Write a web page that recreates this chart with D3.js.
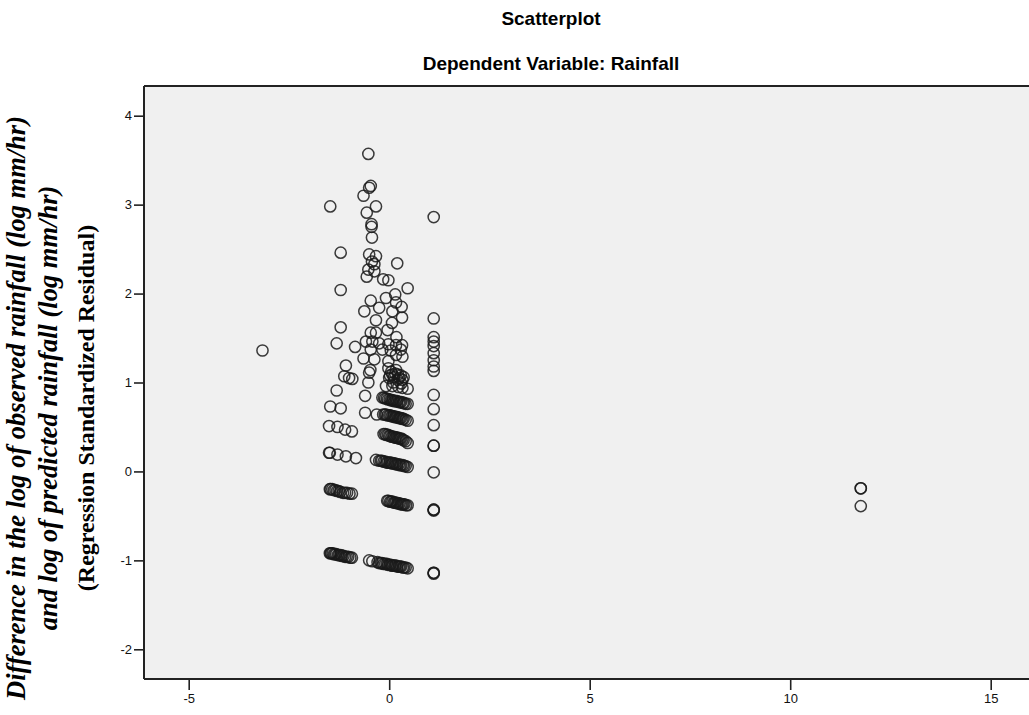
<!DOCTYPE html>
<html><head><meta charset="utf-8">
<script src="https://cdn.jsdelivr.net/npm/d3@7"></script>
<style>body{margin:0;background:#fff}</style>
</head><body>
<svg id="chart" width="1029" height="715"></svg>
<script>
// ---- Data (standardized predicted value, standardized residual) ----
const xTicks = [-5, 0, 5, 10, 15];
const yTicks = [-2, -1, 0, 1, 2, 3, 4];

const outlierPoints = [[-3.16, 1.36], [11.76, -0.19], [11.76, -0.19], [11.76, -0.39]];

const rightColumn = [
  [1.11, 2.86], [1.11, 1.72], [1.11, 1.51], [1.11, 1.46], [1.11, 1.41], [1.11, 1.33],
  [1.11, 1.25], [1.11, 1.18], [1.11, 1.13], [1.11, 0.86], [1.11, 0.70], [1.11, 0.52],
  [1.11, 0.29], [1.11, 0.29], [1.11, -0.01], [1.11, -0.43], [1.11, -0.43], [1.11, -0.44],
  [1.11, -1.14], [1.11, -1.14], [1.11, -1.15]
];

const upperScatter = [
  [-0.52, 3.57], [-0.46, 3.21], [-0.50, 3.19], [-0.64, 3.10], [-1.47, 2.98], [-0.33, 2.98],
  [-0.56, 2.91], [-0.44, 2.78], [-0.44, 2.75], [-0.43, 2.63], [-1.21, 2.46], [-0.50, 2.44],
  [-0.33, 2.42], [-0.43, 2.36], [-0.37, 2.33], [0.20, 2.34], [-0.52, 2.27], [-0.37, 2.25],
  [-0.56, 2.19], [-0.15, 2.16], [-0.02, 2.15], [-1.21, 2.04], [0.46, 2.06], [0.15, 1.99],
  [-0.08, 1.95], [-0.46, 1.92], [0.17, 1.90], [-0.62, 1.80], [-0.25, 1.84], [0.08, 1.80],
  [0.31, 1.85], [0.32, 1.73], [-0.33, 1.70], [0.07, 1.67], [-0.04, 1.59], [0.18, 1.51],
  [-1.21, 1.62], [-1.31, 1.44], [-0.85, 1.40], [-0.46, 1.56], [-0.33, 1.56], [-0.58, 1.46],
  [-0.42, 1.46], [-0.25, 1.44], [-0.02, 1.43], [0.17, 1.42], [0.32, 1.42], [-0.46, 1.37],
  [-0.17, 1.37], [0.04, 1.36], [0.29, 1.37], [-0.64, 1.27], [-0.37, 1.26], [-0.02, 1.24],
  [0.33, 1.29], [0.17, 1.31], [-1.08, 1.19], [-1.12, 1.07], [-1.00, 1.05], [-0.92, 1.04],
  [-0.47, 1.14], [-0.50, 1.11], [-0.02, 1.16], [0.17, 1.14], [0.08, 1.09], [0.29, 1.08],
  [0.00, 1.05], [0.21, 1.03], [0.33, 1.03], [0.05, 1.12], [0.12, 1.06], [0.25, 1.05],
  [0.10, 1.00], [0.30, 0.99], [0.02, 1.08], [0.15, 1.10], [0.22, 1.09], [0.36, 1.06],
  [-1.31, 0.91], [-0.52, 1.00], [-0.60, 0.85], [-0.08, 0.96],
  [0.08, 0.96], [0.23, 0.95], [0.46, 0.93], [0.33, 0.94], [-1.47, 0.73], [-1.21, 0.71],
  [-0.60, 0.66], [-0.31, 0.64]
];

const leftGroupRows = [
  [-1.50, 0.51], [-1.29, 0.50], [-1.10, 0.47], [-0.93, 0.45],
  [-1.50, 0.21], [-1.48, 0.21], [-1.29, 0.19], [-1.08, 0.17], [-0.83, 0.15],
  [-1.48, -0.20], [-1.46, -0.20], [-1.42, -0.20], [-1.38, -0.21], [-1.34, -0.21],
  [-1.30, -0.22], [-1.26, -0.22], [-1.22, -0.23], [-1.15, -0.24], [-1.10, -0.24],
  [-1.05, -0.24], [-0.99, -0.25], [-0.93, -0.25],
  [-1.48, -0.92], [-1.46, -0.92], [-1.44, -0.92], [-1.41, -0.92], [-1.38, -0.93],
  [-1.35, -0.93], [-1.32, -0.93], [-1.28, -0.94], [-1.25, -0.94], [-1.21, -0.94],
  [-1.18, -0.95], [-1.14, -0.95], [-1.10, -0.96], [-1.06, -0.96], [-1.02, -0.96],
  [-0.97, -0.97], [-0.93, -0.97]
];

const middleGroupRows = [
  [-0.17, 0.83], [-0.13, 0.83], [-0.10, 0.82], [-0.06, 0.82], [-0.03, 0.81], [0.01, 0.81],
  [0.04, 0.80], [0.07, 0.80], [0.10, 0.80], [0.13, 0.79], [0.17, 0.79], [0.20, 0.79],
  [0.24, 0.78], [0.27, 0.78], [0.30, 0.78], [0.34, 0.77], [0.37, 0.77], [0.41, 0.76],
  [0.46, 0.76],
  [-0.15, 0.64], [-0.11, 0.64], [-0.08, 0.64], [-0.04, 0.63], [0.00, 0.63], [0.03, 0.63],
  [0.06, 0.62], [0.09, 0.62], [0.12, 0.62], [0.15, 0.61], [0.18, 0.61], [0.21, 0.61],
  [0.24, 0.60], [0.27, 0.60], [0.30, 0.60], [0.33, 0.59], [0.36, 0.59], [0.41, 0.58],
  [0.46, 0.57],
  [-0.14, 0.42], [-0.10, 0.42], [-0.07, 0.41], [-0.03, 0.41], [0.00, 0.40], [0.03, 0.40],
  [0.06, 0.39], [0.09, 0.39], [0.12, 0.39], [0.15, 0.38], [0.18, 0.38], [0.21, 0.38],
  [0.24, 0.37], [0.27, 0.37], [0.30, 0.37], [0.33, 0.36], [0.36, 0.35], [0.41, 0.34],
  [0.46, 0.32],
  [-0.33, 0.13], [-0.25, 0.12], [-0.21, 0.12], [-0.18, 0.12], [-0.14, 0.11], [-0.10, 0.11],
  [-0.06, 0.10], [-0.03, 0.10], [0.01, 0.10], [0.04, 0.10], [0.07, 0.09], [0.10, 0.09],
  [0.14, 0.09], [0.17, 0.08], [0.20, 0.08], [0.24, 0.08], [0.27, 0.07], [0.30, 0.07],
  [0.34, 0.07], [0.37, 0.06], [0.41, 0.06], [0.46, 0.05],
  [-0.05, -0.33], [-0.02, -0.33], [0.02, -0.34], [0.05, -0.34], [0.08, -0.34], [0.11, -0.35],
  [0.14, -0.35], [0.17, -0.35], [0.20, -0.36], [0.23, -0.36], [0.26, -0.36], [0.29, -0.37],
  [0.32, -0.37], [0.35, -0.37], [0.38, -0.37], [0.42, -0.38], [0.46, -0.38],
  [-0.50, -1.00], [-0.42, -1.01], [-0.29, -1.02], [-0.25, -1.03], [-0.21, -1.03],
  [-0.18, -1.03], [-0.14, -1.04], [-0.10, -1.04], [-0.06, -1.04], [-0.03, -1.05],
  [0.01, -1.05], [0.04, -1.05], [0.07, -1.06], [0.10, -1.06], [0.14, -1.06], [0.17, -1.06],
  [0.20, -1.07], [0.24, -1.07], [0.27, -1.07], [0.30, -1.07], [0.34, -1.08], [0.37, -1.08],
  [0.41, -1.08], [0.46, -1.09]
];

const titleText = "Scatterplot";
const subtitleText = "Dependent Variable: Rainfall";
const yTitleLines = [
  "Difference in the log of observed rainfall (log mm/hr)",
  "and log of predicted rainfall (log mm/hr)",
  "(Regression Standardized Residual)"
];

// ---- Drawing ----
const svg = d3.select("#chart");
const plot = {left: 144, top: 86, right: 1040, bottom: 679};

const x = d3.scaleLinear().domain([-5, 15]).range([188.7, 990.7]);
const y = d3.scaleLinear().domain([-2, 4]).range([649.3, 115.7]);

svg.append("rect").attr("x", plot.left).attr("y", plot.top)
  .attr("width", plot.right - plot.left).attr("height", plot.bottom - plot.top)
  .attr("fill", "#f0f0f0");

// top border
svg.append("line").attr("x1", plot.left).attr("x2", 1029)
  .attr("y1", plot.top).attr("y2", plot.top)
  .attr("stroke", "#222").attr("stroke-width", 2.2);

const fontAxis = "'Liberation Sans', Arial, sans-serif";
const fmt = d => String(d);

const xAxis = d3.axisBottom(x).tickValues(xTicks).tickSize(11).tickPadding(4).tickFormat(fmt);
const gx = svg.append("g").attr("transform", `translate(0,${plot.bottom})`).call(xAxis);
gx.select(".domain").attr("d", `M${plot.left},0H1029`).attr("stroke", "#222").attr("stroke-width", 2);
gx.selectAll(".tick line").attr("stroke", "#222").attr("stroke-width", 1.6);
gx.selectAll(".tick text").attr("font-family", fontAxis).attr("font-size", 13).attr("fill", "#111");

const yAxis = d3.axisLeft(y).tickValues(yTicks).tickSize(10).tickPadding(2).tickFormat(fmt);
const gy = svg.append("g").attr("transform", `translate(${plot.left},0)`).call(yAxis);
gy.select(".domain").attr("d", `M0,${plot.top}V${plot.bottom}`).attr("stroke", "#222").attr("stroke-width", 2);
gy.selectAll(".tick line").attr("stroke", "#222").attr("stroke-width", 1.6);
gy.selectAll(".tick text").attr("font-family", fontAxis).attr("font-size", 13).attr("fill", "#111");

// points
const allPoints = [].concat(upperScatter, leftGroupRows, middleGroupRows, rightColumn, outlierPoints);
svg.append("g").selectAll("circle").data(allPoints).join("circle")
  .attr("cx", d => x(d[0])).attr("cy", d => y(d[1])).attr("r", 5.6)
  .attr("fill", "none").attr("stroke", "#1a1a1a").attr("stroke-width", 1.5).attr("stroke-opacity", 0.85);

// titles
svg.append("text").attr("x", 551).attr("y", 25).attr("text-anchor", "middle")
  .attr("font-family", fontAxis).attr("font-weight", "bold").attr("font-size", 19).text(titleText);
svg.append("text").attr("x", 551).attr("y", 70).attr("text-anchor", "middle")
  .attr("font-family", fontAxis).attr("font-weight", "bold").attr("font-size", 19).text(subtitleText);

// y title
const yt = svg.append("g").attr("transform", "translate(0,408) rotate(-90)");
const lineX = [25, 57, 94];
const lineSize = [26.5, 26.5, 24];
yTitleLines.forEach((t, i) => {
  yt.append("text").attr("x", 0).attr("y", lineX[i]).attr("text-anchor", "middle")
    .attr("font-family", "'Liberation Serif', 'Times New Roman', serif")
    .attr("font-weight", "bold").attr("font-style", i < 2 ? "italic" : "normal")
    .attr("font-size", lineSize[i]).text(t);
});
</script>
</body></html>
